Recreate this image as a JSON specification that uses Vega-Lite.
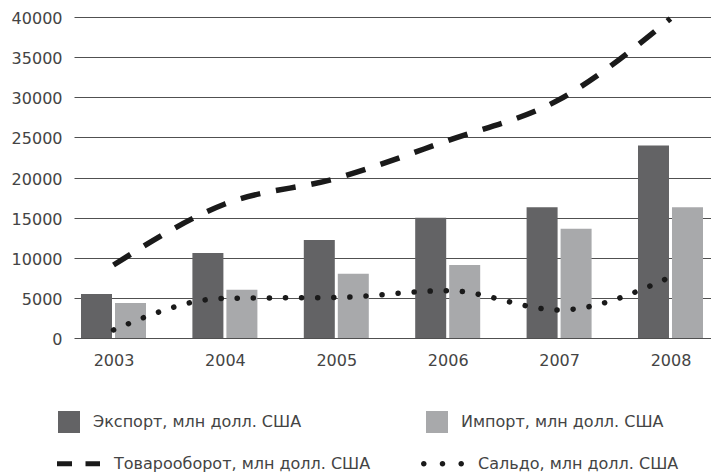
{
  "$schema": "https://vega.github.io/schema/vega-lite/v6.json",
  "width": 637,
  "height": 321,
  "autosize": {"type": "none"},
  "padding": {"left": 74, "top": 17, "right": 0, "bottom": 135},
  "background": "white",
  "config": {
    "view": {"stroke": null},
    "font": "DejaVu Sans",
    "axis": {"labelFont": "DejaVu Sans", "labelFontSize": 16, "labelColor": "#444444"},
    "legend": {"labelFont": "DejaVu Sans", "labelFontSize": 16, "labelColor": "#444444"}
  },
  "data": {
    "values": [
      {"year": 2003, "series": "Экспорт, млн долл. США", "value": 5480},
      {"year": 2004, "series": "Экспорт, млн долл. США", "value": 10600},
      {"year": 2005, "series": "Экспорт, млн долл. США", "value": 12200},
      {"year": 2006, "series": "Экспорт, млн долл. США", "value": 15000},
      {"year": 2007, "series": "Экспорт, млн долл. США", "value": 16300},
      {"year": 2008, "series": "Экспорт, млн долл. США", "value": 24000},
      {"year": 2003, "series": "Импорт, млн долл. США", "value": 4360},
      {"year": 2004, "series": "Импорт, млн долл. США", "value": 6000},
      {"year": 2005, "series": "Импорт, млн долл. США", "value": 8000},
      {"year": 2006, "series": "Импорт, млн долл. США", "value": 9100},
      {"year": 2007, "series": "Импорт, млн долл. США", "value": 13600},
      {"year": 2008, "series": "Импорт, млн долл. США", "value": 16300},
      {"year": 2003, "series": "Товарооборот, млн долл. США", "value": 9100},
      {"year": 2004, "series": "Товарооборот, млн долл. США", "value": 16700},
      {"year": 2005, "series": "Товарооборот, млн долл. США", "value": 19900},
      {"year": 2006, "series": "Товарооборот, млн долл. США", "value": 24600},
      {"year": 2007, "series": "Товарооборот, млн долл. США", "value": 29700},
      {"year": 2008, "series": "Товарооборот, млн долл. США", "value": 39800},
      {"year": 2003, "series": "Сальдо, млн долл. США", "value": 1000},
      {"year": 2004, "series": "Сальдо, млн долл. США", "value": 4950},
      {"year": 2005, "series": "Сальдо, млн долл. США", "value": 5050},
      {"year": 2006, "series": "Сальдо, млн долл. США", "value": 5900},
      {"year": 2007, "series": "Сальдо, млн долл. США", "value": 3500},
      {"year": 2008, "series": "Сальдо, млн долл. США", "value": 7600}
    ]
  },
  "encoding": {
    "x": {
      "field": "year",
      "type": "quantitative",
      "scale": {"domain": [2002.6454, 2008.3636], "nice": false, "zero": false, "padding": 0},
      "axis": {
        "title": null,
        "values": [2003, 2004, 2005, 2006, 2007, 2008],
        "format": "d",
        "grid": false,
        "domain": false,
        "ticks": false,
        "labelPadding": 14,
        "labelFlush": false,
        "labelOverlap": false
      }
    },
    "y": {
      "field": "value",
      "type": "quantitative",
      "scale": {"domain": [0, 40000], "nice": false},
      "axis": {
        "title": null,
        "values": [0, 5000, 10000, 15000, 20000, 25000, 30000, 35000, 40000],
        "format": "d",
        "grid": true,
        "gridColor": "#505050",
        "gridWidth": 1,
        "domain": false,
        "ticks": false,
        "labelPadding": 12,
        "labelOffset": 1.5
      }
    }
  },
  "layer": [
    {
      "transform": [{"filter": "datum.series === 'Экспорт, млн долл. США'"}],
      "mark": {"type": "bar", "orient": "vertical", "width": 31, "xOffset": -17},
      "encoding": {
        "color": {
          "field": "series",
          "type": "nominal",
          "scale": {"domain": ["Экспорт, млн долл. США", "Импорт, млн долл. США"], "range": ["#636365", "#a8a9ab"]},
          "legend": {
            "title": null,
            "orient": "none",
            "legendX": -16,
            "legendY": 394,
            "direction": "horizontal",
            "columns": 2,
            "padding": 0,
            "symbolType": "square",
            "symbolSize": 484,
            "symbolStrokeWidth": 0,
            "symbolOpacity": 1,
            "labelOffset": 13,
            "columnPadding": 124,
            "labelLimit": 400
          }
        }
      }
    },
    {
      "transform": [{"filter": "datum.series === 'Импорт, млн долл. США'"}],
      "mark": {"type": "bar", "orient": "vertical", "width": 31, "xOffset": 17},
      "encoding": {
        "color": {"field": "series", "type": "nominal"}
      }
    },
    {
      "transform": [{"filter": "datum.series === 'Товарооборот, млн долл. США'"}],
      "mark": {"type": "line", "interpolate": "monotone", "color": "#1a1a1a", "strokeWidth": 5.5, "strokeCap": "butt", "strokeDash": [20, 16]},
      "encoding": {}
    },
    {
      "transform": [{"filter": "datum.series === 'Сальдо, млн долл. США'"}],
      "mark": {"type": "line", "interpolate": "monotone", "color": "#1a1a1a", "strokeWidth": 5.5, "strokeCap": "round", "strokeDash": [0.1, 16]},
      "encoding": {}
    },
    {
      "transform": [{"filter": "datum.series === 'Товарооборот, млн долл. США' || datum.series === 'Сальдо, млн долл. США'"}],
      "mark": {"type": "point", "filled": true, "opacity": 0, "color": "#1a1a1a"},
      "encoding": {
        "shape": {
          "field": "series",
          "type": "nominal",
          "scale": {
            "domain": ["Товарооборот, млн долл. США", "Сальдо, млн долл. США"],
            "range": [
              "M-1,-0.116H-0.302V0.116H-1Z M0.326,-0.116H1V0.116H0.326Z",
              "M-1,0a0.13,0.13 0 1,0 0.26,0a0.13,0.13 0 1,0 -0.26,0Z M-0.13,0a0.13,0.13 0 1,0 0.26,0a0.13,0.13 0 1,0 -0.26,0Z M0.74,0a0.13,0.13 0 1,0 0.26,0a0.13,0.13 0 1,0 -0.26,0Z"
            ]
          },
          "legend": {
            "title": null,
            "orient": "none",
            "legendX": -17,
            "legendY": 425,
            "direction": "horizontal",
            "columns": 2,
            "padding": 0,
            "symbolSize": 1849,
            "symbolFillColor": "#1a1a1a",
            "symbolStrokeWidth": 0,
            "symbolOpacity": 1,
            "labelOffset": 14,
            "columnPadding": 50,
            "labelLimit": 400
          }
        }
      }
    }
  ]
}
